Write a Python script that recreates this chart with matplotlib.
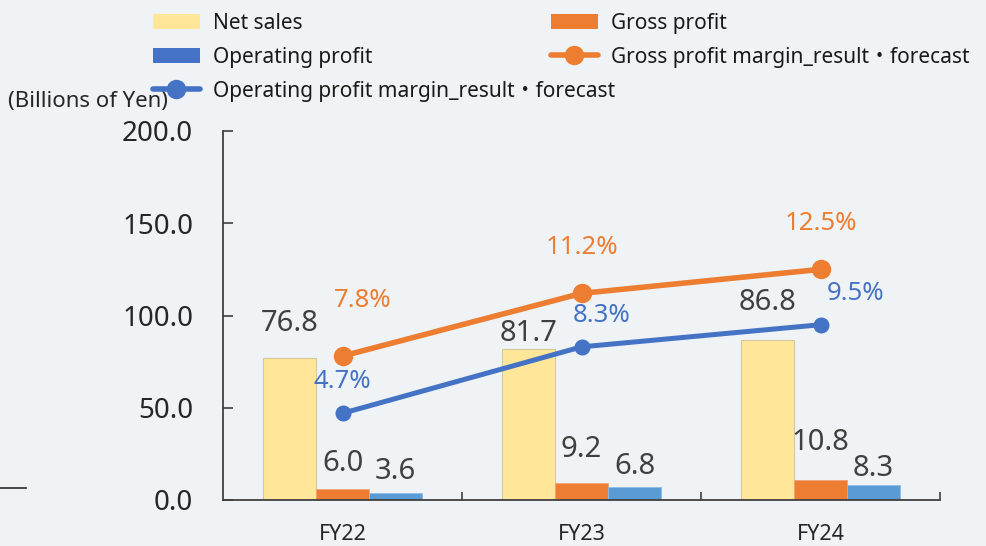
import numpy as np
import matplotlib
matplotlib.use("Agg")
import matplotlib.pyplot as plt
from matplotlib.patches import Patch
from matplotlib.lines import Line2D

# ---- data ----
years = ["FY22", "FY23", "FY24"]
net_sales = [76.8, 81.7, 86.8]
gross_profit = [6.0, 9.2, 10.8]
operating_profit = [3.6, 6.8, 8.3]
gross_margin = [7.8, 11.2, 12.5]        # %
operating_margin = [4.7, 8.3, 9.5]      # %
y_ticks = [0, 50, 100, 150, 200]

# ---- style ----
plt.rcParams["font.family"] = ["Noto Sans", "Noto Sans CJK JP", "DejaVu Sans"]
BG = "#eff3f5"
C_SALES = "#ffe699"
C_GROSS = "#ed7d31"
C_OPBAR = "#5b9bd5"
C_OPLINE = "#4472c4"
C_TEXT = "#404040"
AXIS = "#404040"
PX = 0.72  # points per pixel at 100 dpi

fig = plt.figure(figsize=(9.86, 5.46), dpi=100, facecolor=BG)
ax = fig.add_axes([223 / 986, 46 / 546, 717 / 986, 369 / 546])
ax.set_facecolor(BG)

x = np.arange(len(years))
w = 0.222
b_sales = ax.bar(x - w, net_sales, w, color=C_SALES, edgecolor="#d6c89a", linewidth=0.8, zorder=2)
b_gross = ax.bar(x, gross_profit, w, color=C_GROSS, edgecolor="#f2a274", linewidth=0.6, zorder=2)
b_op = ax.bar(x + w, operating_profit, w, color=C_OPBAR, edgecolor="#8fbbe3", linewidth=0.6, zorder=2)

ax.set_xlim(-0.5, len(years) - 0.5)
ax.set_ylim(0, 200)
ax.set_yticks(y_ticks)
ax.set_yticklabels([f"{v:.1f}" for v in y_ticks], fontsize=20, color="#262626")
ax.tick_params(axis="y", direction="in", length=7, width=1.2, color=AXIS, pad=21.5)

ax.set_xticks(np.arange(len(years)) + 0.5)
ax.set_xticklabels([""] * len(years))
ax.tick_params(axis="x", which="major", direction="in", length=6, width=1.2, color=AXIS)
ax.set_xticks(x, minor=True)
ax.set_xticklabels(years, minor=True, fontsize=15.5, color="#262626")
ax.tick_params(axis="x", which="minor", length=0, pad=17.5)

for s in ("top", "right"):
    ax.spines[s].set_visible(False)
for s in ("left", "bottom"):
    ax.spines[s].set_color(AXIS)
    ax.spines[s].set_linewidth(1.3)

# value labels above bars (gap in pixels between bar top and label centre)
gaps = {
    "sales": [35, 16, 37],
    "gross": [25, 34, 38],
    "op": [22, 21, 16],
}
for bars, vals, key in ((b_sales, net_sales, "sales"), (b_gross, gross_profit, "gross"),
                        (b_op, operating_profit, "op")):
    for rect, v, g in zip(bars, vals, gaps[key]):
        ax.annotate(f"{v:.1f}", (rect.get_x() + rect.get_width() / 2, v),
                    xytext=(0, g * PX), textcoords="offset points",
                    ha="center", va="center", fontsize=21, color=C_TEXT, zorder=5)

# margin lines on a hidden secondary scale (0-20 %)
ax2 = ax.twinx()
ax2.set_ylim(0, 20)
ax2.axis("off")
ax2.plot(x, gross_margin, color=C_GROSS, lw=4, marker="o", ms=13,
         solid_capstyle="round", zorder=3)
ax2.plot(x, operating_margin, color=C_OPLINE, lw=3.6, marker="o", ms=10.5,
         solid_capstyle="round", zorder=3)

gm_off = [(20, 56), (0, 46), (0, 46)]
om_off = [(0, 32), (20, 31), (35, 31)]
for xi, v, (dx, dy) in zip(x, gross_margin, gm_off):
    ax2.annotate(f"{v:.1f}%", (xi, v), xytext=(dx * PX, dy * PX), textcoords="offset points",
                 ha="center", va="center", fontsize=18.5, fontweight="medium", color=C_GROSS)
for xi, v, (dx, dy) in zip(x, operating_margin, om_off):
    ax2.annotate(f"{v:.1f}%", (xi, v), xytext=(dx * PX, dy * PX), textcoords="offset points",
                 ha="center", va="center", fontsize=18.5, fontweight="medium", color=C_OPLINE)

# unit label
fig.text(8 / 986, 1 - 102 / 546, "(Billions of Yen)", fontsize=16, color="#262626",
         ha="left", va="center")

# short rule at the left edge
fig.add_artist(Line2D([0, 26 / 986], [1 - 488 / 546, 1 - 488 / 546], color="#262626", lw=1.2))

# legends
h_sales = Patch(facecolor=C_SALES, edgecolor="none")
h_op = Patch(facecolor=C_OPLINE, edgecolor="none")
h_opm = Line2D([], [], color=C_OPLINE, lw=4, marker="o", ms=13, solid_capstyle="round")
h_gross = Patch(facecolor=C_GROSS, edgecolor="none")
h_gpm = Line2D([], [], color=C_GROSS, lw=4, marker="o", ms=13, solid_capstyle="round")

common = dict(frameon=False, fontsize=15, handlelength=2.25, handleheight=0.75,
              handletextpad=0.62, labelspacing=0.62, borderpad=0, borderaxespad=0,
              loc="upper left")
leg1 = fig.legend([h_sales, h_op, h_opm],
                  ["Net sales", "Operating profit", "Operating profit margin_result・forecast"],
                  bbox_to_anchor=(153 / 986, 1 - 13 / 546), **common)
leg2 = fig.legend([h_gross, h_gpm],
                  ["Gross profit", "Gross profit margin_result・forecast"],
                  bbox_to_anchor=(551 / 986, 1 - 13 / 546), **common)
for lg in (leg1, leg2):
    for t in lg.get_texts():
        t.set_color("#1a1a1a")

fig.savefig("out.png", dpi=100, facecolor=BG)
